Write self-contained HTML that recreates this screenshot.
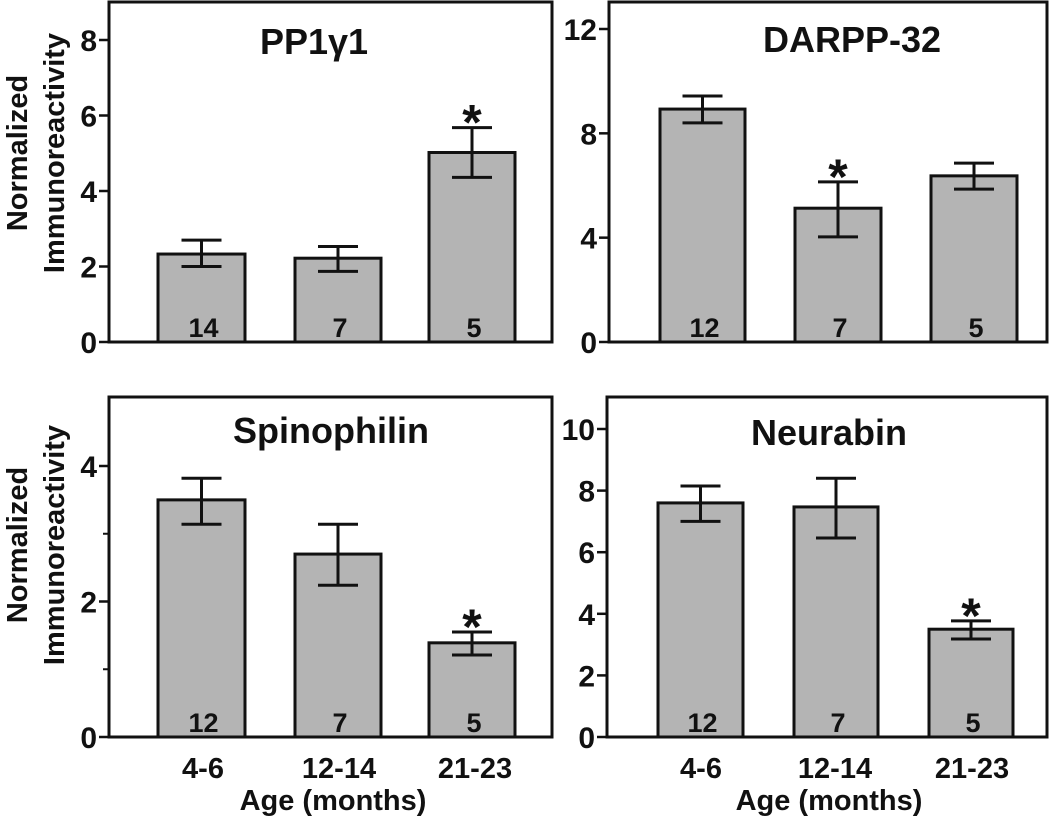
<!DOCTYPE html>
<html><head><meta charset="utf-8"><style>
html,body{margin:0;padding:0;background:#fff;}
svg{display:block;font-family:"Liberation Sans",Arial,sans-serif;font-weight:bold;}
</style></head>
<body>
<svg id="chart" width="1050" height="824" viewBox="0 0 1050 824" xmlns="http://www.w3.org/2000/svg"></svg>
<script>
const categories = ["4-6", "12-14", "21-23"];
const titles = ["PP1\u03B31", "DARPP-32", "Spinophilin", "Neurabin"];
const ppValues = [2.33, 2.22, 5.02];
const ppLow = [2.0, 1.87, 4.36];
const ppHigh = [2.7, 2.53, 5.68];
const darppValues = [8.93, 5.13, 6.37];
const darppLow = [8.4, 4.03, 5.86];
const darppHigh = [9.43, 6.14, 6.86];
const spinoValues = [3.5, 2.7, 1.39];
const spinoLow = [3.14, 2.24, 1.21];
const spinoHigh = [3.82, 3.14, 1.55];
const neuraValues = [7.6, 7.47, 3.5];
const neuraLow = [7.0, 6.46, 3.18];
const neuraHigh = [8.15, 8.4, 3.77];
const ppN = ["14", "7", "5"];
const darppN = ["12", "7", "5"];
const spinoN = ["12", "7", "5"];
const neuraN = ["12", "7", "5"];
const ppTicks = [0, 2, 4, 6, 8];
const darppTicks = [0, 4, 8, 12];
const spinoTicks = [0, 2, 4];
const spinoMinor = [1, 3];
const neuraTicks = [0, 2, 4, 6, 8, 10];
const ppStar = [false, false, true];
const darppStar = [false, true, false];
const spinoStar = [false, false, true];
const neuraStar = [false, false, true];

const svg = document.getElementById('chart');
const NS = 'http://www.w3.org/2000/svg';
function mk(tag, attrs, parent) {
  const e = document.createElementNS(NS, tag);
  for (const k in attrs) e.setAttribute(k, attrs[k]);
  (parent || svg).appendChild(e);
  return e;
}

const panels = [
  {name:'pp1g1', title:titles[0], vals:ppValues, lo:ppLow, hi:ppHigh, n:ppN, ticks:ppTicks, minor:[], star:ppStar,
   x0:109, x1:552, top:2, base:342, vmax:8, ymax:40, titleX:314, titleY:54, bars:[[158,245],[295,381],[429,515]], xlabels:false},
  {name:'darpp32', title:titles[1], vals:darppValues, lo:darppLow, hi:darppHigh, n:darppN, ticks:darppTicks, minor:[], star:darppStar,
   x0:609, x1:1047, top:2, base:342, vmax:12, ymax:29, titleX:852, titleY:52, bars:[[660,745],[795,881],[931,1017]], xlabels:false},
  {name:'spinophilin', title:titles[2], vals:spinoValues, lo:spinoLow, hi:spinoHigh, n:spinoN, ticks:spinoTicks, minor:spinoMinor, star:spinoStar,
   x0:109, x1:552, top:397, base:737, vmax:4, ymax:466, titleX:331, titleY:443, bars:[[158,245],[295,381],[429,515]], xlabels:true, labX:[203,339,475], ageX:333},
  {name:'neurabin', title:titles[3], vals:neuraValues, lo:neuraLow, hi:neuraHigh, n:neuraN, ticks:neuraTicks, minor:[], star:neuraStar,
   x0:607, x1:1047, top:397, base:737, vmax:10, ymax:429, titleX:829, titleY:445, bars:[[658,743],[794,878],[929,1013]], xlabels:true, labX:[701,835,972], ageX:829}
];

panels.forEach(p => {
  const g = mk('g', {});
  
  
  const y = v => p.base - (p.base - p.ymax) * v / p.vmax;
  const fr = mk('rect', {x:p.x0, y:p.top, width:p.x1 - p.x0, height:p.base - p.top, fill:'none', stroke:'#111', 'stroke-width':3}, g);
  
  
  const t = mk('text', {x:p.titleX, y:p.titleY, 'text-anchor':'middle', 'font-size':36, fill:'#111'}, g);
  t.textContent = p.title;
  
  
  p.ticks.forEach(v => {
    mk('line', {x1:p.x0 - 10, x2:p.x0, y1:y(v), y2:y(v), stroke:'#111', 'stroke-width':2.5}, g);
    const tl = mk('text', {x:p.x0 - 12, y:y(v) + 11, 'text-anchor':'end', 'font-size':30, fill:'#111'}, g);
    tl.textContent = v;
    
    
  });
  p.minor.forEach(v => {
    mk('line', {x1:p.x0 - 6, x2:p.x0, y1:y(v), y2:y(v), stroke:'#111', 'stroke-width':2}, g);
  });
  p.vals.forEach((v, i) => {
    const [bx0, bx1] = p.bars[i];
    const b = mk('rect', {x:bx0, y:y(v), width:bx1 - bx0, height:p.base - y(v), fill:'#b4b4b4', stroke:'#111', 'stroke-width':3}, g);
    
    
    const cx = (bx0 + bx1) / 2;
    const eb = mk('path', {d:`M${cx},${y(p.hi[i])}V${y(p.lo[i])}M${cx-20},${y(p.hi[i])}H${cx+20}M${cx-20},${y(p.lo[i])}H${cx+20}`, stroke:'#111', 'stroke-width':3, fill:'none'}, g);
    
    
    const nl = mk('text', {x:cx + 2, y:p.base - 5, 'text-anchor':'middle', 'font-size':27, fill:'#111'}, g);
    nl.textContent = p.n[i];
    
    
    if (p.star[i]) {
      const s = mk('text', {x:cx, y:y(p.hi[i]) + 12, 'text-anchor':'middle', 'font-size':50, fill:'#111'}, g);
      s.textContent = '*';
      
      
    }
    if (p.xlabels) {
      const xl = mk('text', {x:p.labX[i], y:778, 'text-anchor':'middle', 'font-size':29, fill:'#111'}, g);
      xl.textContent = categories[i];
      
      
    }
  });
  if (p.xlabels) {
    const at = mk('text', {x:p.ageX, y:810, 'text-anchor':'middle', 'font-size':29, fill:'#111'}, g);
    at.textContent = 'Age (months)';
    
    
  }
});

[[153], [545]].forEach(([cy]) => {
  const g = mk('g', {transform:`translate(0,${cy}) rotate(-90)`});
  
  
  const a = mk('text', {x:0, y:27, 'text-anchor':'middle', 'font-size':29, fill:'#111'}, g);
  a.textContent = 'Normalized';
  const b = mk('text', {x:0, y:64, 'text-anchor':'middle', 'font-size':29, fill:'#111'}, g);
  b.textContent = 'Immunoreactivity';
});
</script>
</body></html>
